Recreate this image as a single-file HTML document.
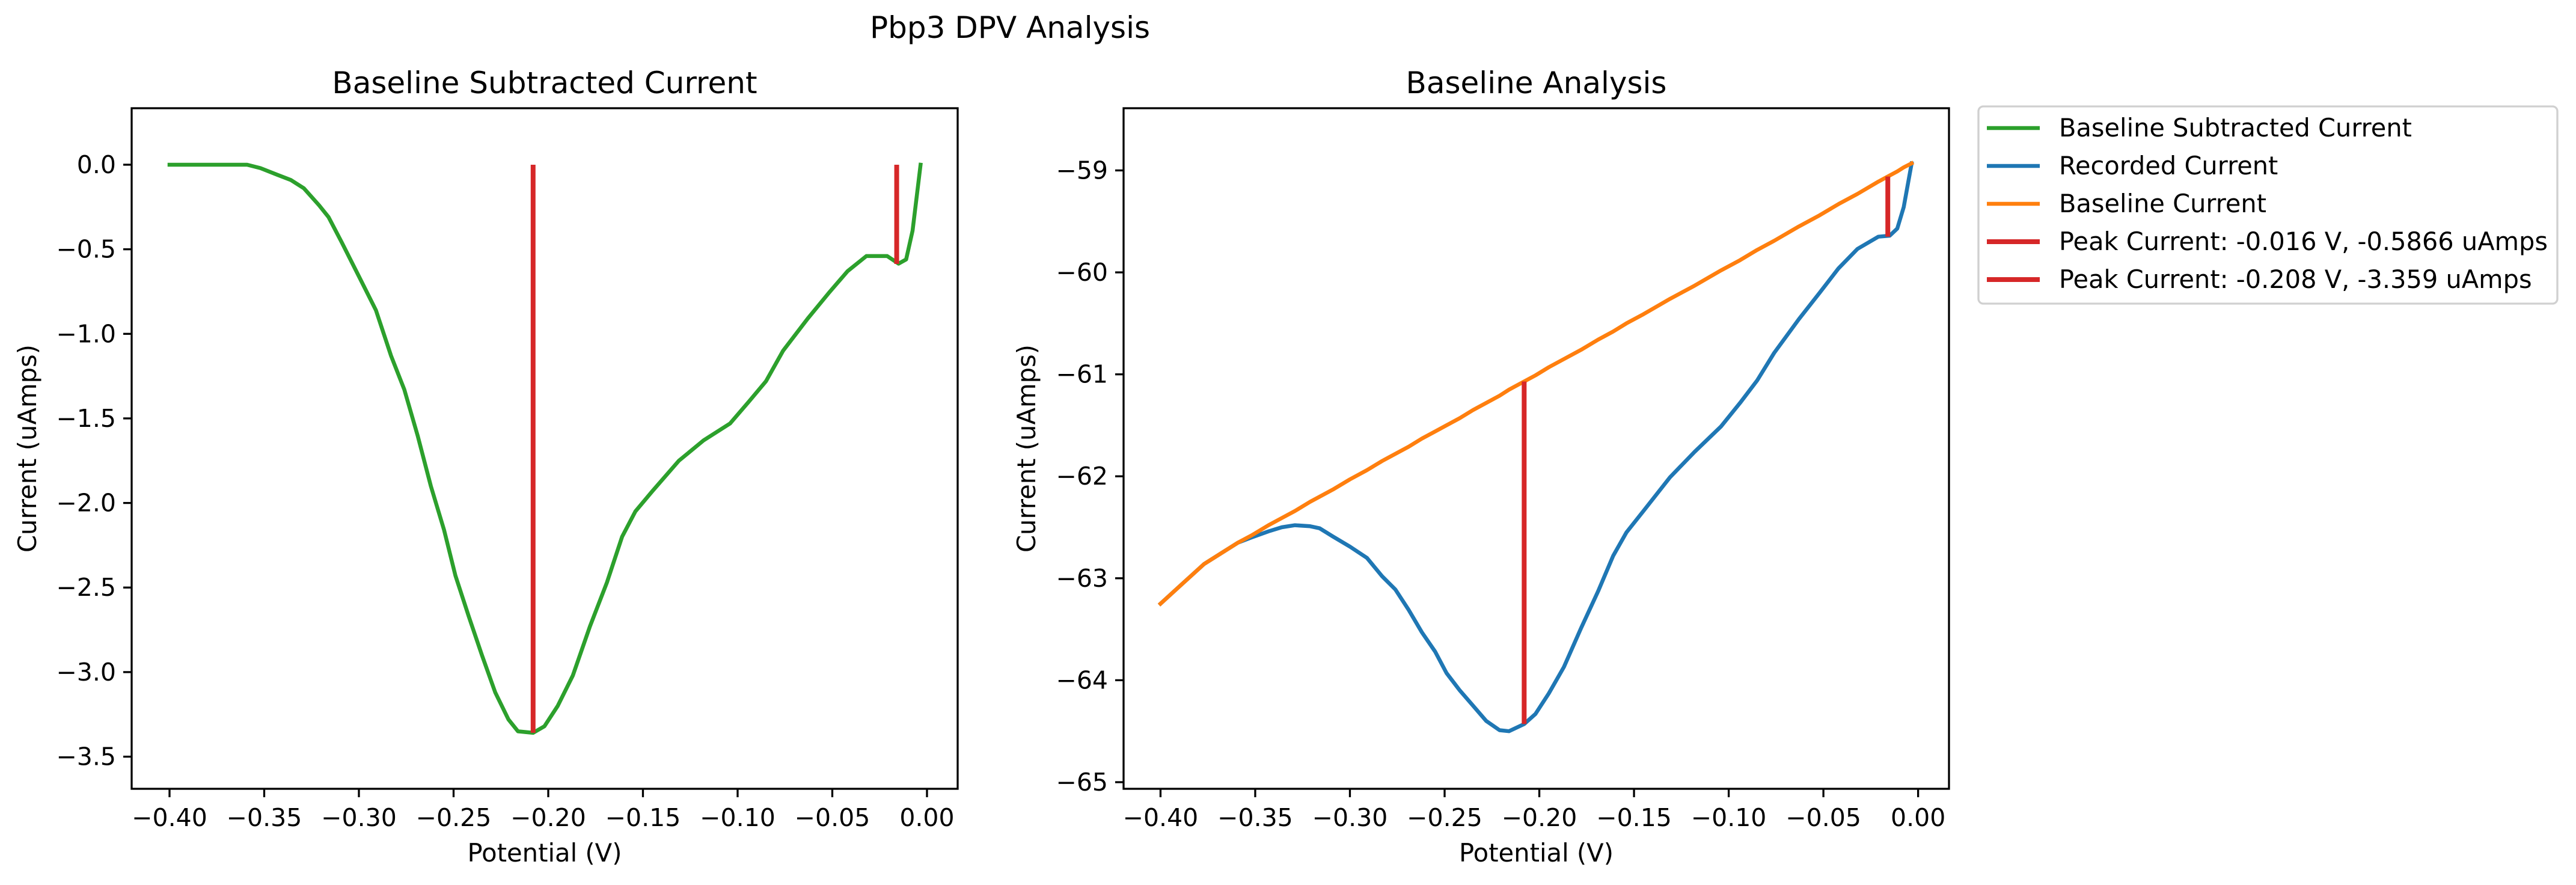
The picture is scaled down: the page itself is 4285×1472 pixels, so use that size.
<!DOCTYPE html>
<html><head><meta charset="utf-8"><style>
html,body{margin:0;padding:0;background:#fff;}
svg{display:block;font-family:"DejaVu Sans","Liberation Sans",sans-serif;}
</style></head><body>
<svg id="fig" width="4285" height="1472" viewBox="0 0 4285 1472" xmlns="http://www.w3.org/2000/svg">
<rect width="4285" height="1472" fill="#fff"/>
<text x="1680" y="63" font-size="50" text-anchor="middle">Pbp3 DPV Analysis</text>
<g id="left"></g>
<g id="right"></g>
<g id="legend"></g>
</svg>
<script>
// data
const potential = [-0.40,-0.39,-0.377,-0.359,-0.352,-0.343,-0.336,-0.329,-0.321,-0.316,-0.309,-0.300,-0.291,-0.283,-0.276,-0.269,-0.262,-0.255,-0.249,-0.242,-0.235,-0.228,-0.221,-0.216,-0.208,-0.202,-0.195,-0.187,-0.178,-0.169,-0.161,-0.154,-0.145,-0.131,-0.118,-0.104,-0.094,-0.085,-0.076,-0.063,-0.052,-0.042,-0.032,-0.021,-0.015,-0.011,-0.0076,-0.0034];
const subtracted = [0,0,0,0,-0.02,-0.06,-0.09,-0.14,-0.24,-0.31,-0.46,-0.66,-0.86,-1.13,-1.33,-1.60,-1.90,-2.16,-2.43,-2.67,-2.90,-3.12,-3.28,-3.35,-3.359,-3.32,-3.20,-3.02,-2.73,-2.47,-2.20,-2.05,-1.93,-1.75,-1.63,-1.53,-1.40,-1.28,-1.10,-0.91,-0.76,-0.63,-0.54,-0.54,-0.585,-0.56,-0.39,0];
const baseline = [-63.25,-63.08,-62.86,-62.65,-62.58,-62.48,-62.41,-62.34,-62.25,-62.20,-62.13,-62.03,-61.94,-61.85,-61.78,-61.71,-61.63,-61.56,-61.50,-61.43,-61.35,-61.28,-61.21,-61.15,-61.07,-61.01,-60.93,-60.85,-60.76,-60.66,-60.58,-60.50,-60.41,-60.26,-60.13,-59.98,-59.88,-59.78,-59.69,-59.55,-59.44,-59.33,-59.23,-59.11,-59.05,-59.01,-58.97,-58.93];
const recorded = [-63.25,-63.08,-62.86,-62.65,-62.60,-62.54,-62.50,-62.48,-62.49,-62.51,-62.59,-62.69,-62.80,-62.98,-63.11,-63.31,-63.53,-63.72,-63.93,-64.10,-64.25,-64.40,-64.49,-64.50,-64.43,-64.33,-64.13,-63.87,-63.49,-63.13,-62.78,-62.55,-62.34,-62.01,-61.76,-61.51,-61.28,-61.06,-60.79,-60.46,-60.20,-59.96,-59.77,-59.65,-59.64,-59.57,-59.36,-58.93];
const peakX = [-0.016,-0.208];
const peakSub = [-0.5866,-3.359];
const peakBase = [-59.06,-61.07];
const peakRec = [-59.65,-64.43];
const xTicks = [-0.40,-0.35,-0.30,-0.25,-0.20,-0.15,-0.10,-0.05,0.00];
const xTickLabels = ["−0.40","−0.35","−0.30","−0.25","−0.20","−0.15","−0.10","−0.05","0.00"];
const yTicksL = [0,-0.5,-1,-1.5,-2,-2.5,-3,-3.5];
const yTickLabelsL = ["0.0","−0.5","−1.0","−1.5","−2.0","−2.5","−3.0","−3.5"];
const yTicksR = [-59,-60,-61,-62,-63,-64,-65];
const yTickLabelsR = ["−59","−60","−61","−62","−63","−64","−65"];
const legendLabels = ["Baseline Subtracted Current","Recorded Current","Baseline Current","Peak Current: -0.016 V, -0.5866 uAmps","Peak Current: -0.208 V, -3.359 uAmps"];
const legendColors = ["#2ca02c","#1f77b4","#ff7f0e","#d62728","#d62728"];

const NS="http://www.w3.org/2000/svg";
function mk(parent,tag,attrs){const e=document.createElementNS(NS,tag);for(const k in attrs)e.setAttribute(k,attrs[k]);parent.appendChild(e);return e;}
function lin(d0,d1,r0,r1){return v=>r0+(v-d0)*(r1-r0)/(d1-d0);}

function axes(g,box,xd,yd,yT,yL,title,nm){
  const sx=lin(xd[0],xd[1],box.x0,box.x1), sy=lin(yd[0],yd[1],box.y1,box.y0);
  const t=mk(g,'text',{x:(box.x0+box.x1)/2,y:box.y0-25,'font-size':50,'text-anchor':'middle'});t.textContent=title;
  
  
  xTicks.forEach((v,i)=>{const x=sx(v);
    const l=mk(g,'line',{x1:x,x2:x,y1:box.y1,y2:box.y1+14,stroke:'#000','stroke-width':3.3});
    
    
    const tx=mk(g,'text',{x:x,y:box.y1+62,'font-size':41,'text-anchor':'middle'});tx.textContent=xTickLabels[i];
    
    });
  yT.forEach((v,i)=>{const y=sy(v);
    const l=mk(g,'line',{x1:box.x0-14,x2:box.x0,y1:y,y2:y,stroke:'#000','stroke-width':3.3});
    
    
    const tx=mk(g,'text',{x:box.x0-26,y:y+14,'font-size':41,'text-anchor':'end'});tx.textContent=yL[i];
    
    });
  const xl=mk(g,'text',{x:(box.x0+box.x1)/2,y:1433,'font-size':41.7,'text-anchor':'middle'});xl.textContent='Potential (V)';
  
  
  const yx=box.ylab;
  const yl=mk(g,'text',{x:yx,y:(box.y0+box.y1)/2,'font-size':41.7,'text-anchor':'middle',transform:`rotate(-90 ${yx} ${(box.y0+box.y1)/2})`});yl.textContent='Current (uAmps)';
  
  
  return {sx,sy};
}
function series(g,xs,ys,sx,sy,color,nm){
  const d=xs.map((x,i)=>(i?'L':'M')+sx(x).toFixed(1)+' '+sy(ys[i]).toFixed(1)).join(' ');
  const p=mk(g,'path',{d:d,fill:'none',stroke:color,'stroke-width':6.5,'stroke-linejoin':'round','stroke-linecap':'square'});
  
  
}
function vline(g,x,y0,y1,sx,sy,nm){
  const l=mk(g,'line',{x1:sx(x),x2:sx(x),y1:sy(y0),y2:sy(y1),stroke:'#d62728','stroke-width':8});
  
  
}
function frame(g,box){
  const r=mk(g,'rect',{x:box.x0,y:box.y0,width:box.x1-box.x0,height:box.y1-box.y0,fill:'none',stroke:'#000','stroke-width':3.3});
  
  
}

// left
const gL=document.getElementById('left');
const boxL={x0:219,x1:1593,y0:180,y1:1312,ylab:60};
const L=axes(gL,boxL,[-0.42,0.0162],[-3.69,0.334],yTicksL,yTickLabelsL,'Baseline Subtracted Current','left-chart');
series(gL,potential,subtracted,L.sx,L.sy,'#2ca02c','baseline-subtracted-line');
peakX.forEach((x,i)=>vline(gL,x,0,peakSub[i],L.sx,L.sy,'peak-line-left'));
frame(gL,boxL);

// right
const gR=document.getElementById('right');
const boxR={x0:1869,x1:3242,y0:180,y1:1312,ylab:1722};
const R=axes(gR,boxR,[-0.4195,0.0163],[-65.065,-58.39],yTicksR,yTickLabelsR,'Baseline Analysis','right-chart');
series(gR,potential,recorded,R.sx,R.sy,'#1f77b4','recorded-current-line');
series(gR,potential,baseline,R.sx,R.sy,'#ff7f0e','baseline-current-line');
peakX.forEach((x,i)=>vline(gR,x,peakBase[i],peakRec[i],R.sx,R.sy,'peak-line-right'));
frame(gR,boxR);

// legend
const gLg=document.getElementById('legend');
const lb=mk(gLg,'rect',{x:3291,y:177,width:963,height:328,rx:8,fill:'#fff',stroke:'#d0d0d0','stroke-width':3.3});


legendLabels.forEach((s,i)=>{const y=213+i*63;
  const l=mk(gLg,'line',{x1:3305,x2:3393,y1:y,y2:y,stroke:legendColors[i],'stroke-width':i>2?8:6.5});
  
  
  const t=mk(gLg,'text',{x:3425,y:y+14,'font-size':41.5});t.textContent=s;
  
  });
</script>
</body></html>
